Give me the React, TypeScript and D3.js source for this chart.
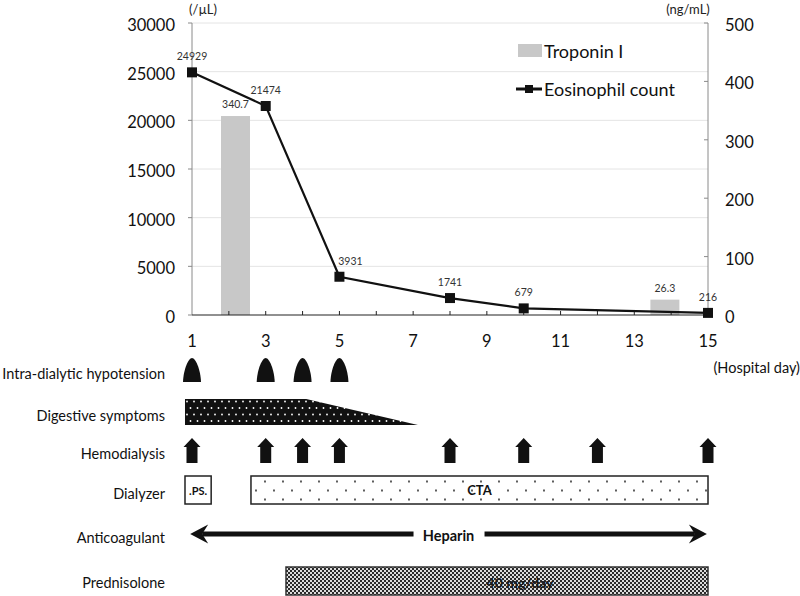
import React from "react";
import * as d3 from "d3";

const eosDays = [1, 3, 5, 8, 10, 15];
const eosValues = [24929, 21474, 3931, 1741, 679, 216];
const eosLabels = ["24929", "21474", "3931", "1741", "679", "216"];
const tropDays = [2.18, 13.83];
const tropValues = [340.7, 26.3];
const tropLabels = ["340.7", "26.3"];
const leftTicks = [0, 5000, 10000, 15000, 20000, 25000, 30000];
const rightTicks = [0, 100, 200, 300, 400, 500];
const dayLabels = [1, 3, 5, 7, 9, 11, 13, 15];
const hypotensionDays = [1, 3, 4, 5];
const hemodialysisDays = [1, 3, 4, 5, 8, 10, 12, 15];
const digestive = { start: 0.81, plateauEnd: 4.1, end: 7.13 };
const psBox = [0.81, 1.52];
const ctaBox = [2.6, 15];
const heparinSpan = [0.95, 14.97];
const prednisoloneSpan = [3.55, 15];
const rowLabels = [
  "Intra-dialytic hypotension",
  "Digestive symptoms",
  "Hemodialysis",
  "Dialyzer",
  "Anticoagulant",
  "Prednisolone",
];

const FONT = "Lato, 'Open Sans', sans-serif";

export default function App() {
  const x = d3.scaleLinear().domain([1, 15]).range([192, 708]);
  const yL = d3.scaleLinear().domain([0, 30000]).range([315, 23]);
  const yR = d3.scaleLinear().domain([0, 500]).range([315, 23]);
  const line = d3
    .line<number>()
    .x((_, i) => x(eosDays[i]))
    .y((v) => yL(v));
  const barW = 29;
  const axisColor = "#8a8a8a";
  const rowY = [373, 415, 453, 493, 537, 582];
  const labelDx = [0, 0, 11, 0, 0, 0];

  const bell = (cx: number) =>
    `M${cx - 9},382 C${cx - 8.5},369 ${cx - 3.5},358 ${cx},358 C${cx + 3.5},358 ${cx + 8.5},369 ${cx + 9},382 Z`;
  const house = (cx: number) =>
    `M${cx},438 L${cx + 8.5},447 L${cx + 5.5},447 L${cx + 5.5},463 L${cx - 5.5},463 L${cx - 5.5},447 L${cx - 8.5},447 Z`;
  const arrowL = (tx: number, y: number) =>
    `M${tx},${y} L${tx + 18},${y - 9.5} L${tx + 12},${y} L${tx + 18},${y + 9.5} Z`;
  const arrowR = (tx: number, y: number) =>
    `M${tx},${y} L${tx - 18},${y - 9.5} L${tx - 12},${y} L${tx - 18},${y + 9.5} Z`;

  const hepY = 534;
  const hepL = x(heparinSpan[0]);
  const hepR = x(heparinSpan[1]);
  const hepMid = (hepL + hepR) / 2;

  return (
    <svg
      width={800}
      height={596}
      style={{ position: "absolute", left: 0, top: 0, background: "#fff" }}
      fontFamily={FONT}
    >
      <defs>
        <pattern id="dotsW" patternUnits="userSpaceOnUse" width={7} height={13} x={185} y={399}>
          <rect width={7} height={13} fill="#111" />
          <circle cx={2} cy={2.5} r={0.9} fill="#fff" />
          <circle cx={5.5} cy={9} r={0.9} fill="#fff" />
        </pattern>
        <pattern id="dotsB" patternUnits="userSpaceOnUse" width={18} height={18} x={0} y={481.5}>
          <rect width={18} height={18} fill="#fff" />
          <circle cx={4} cy={9} r={0.9} fill="#111" />
          <circle cx={13} cy={0} r={0.9} fill="#111" />
          <circle cx={13} cy={18} r={0.9} fill="#111" />
        </pattern>
        <pattern id="checker" patternUnits="userSpaceOnUse" width={4} height={4}>
          <rect width={4} height={4} fill="#dcdcdc" />
          <rect width={2} height={2} fill="#2a2a2a" />
          <rect x={2} y={2} width={2} height={2} fill="#2a2a2a" />
        </pattern>
      </defs>

      {/* gridlines */}
      {leftTicks.slice(1).map((t) => (
        <line key={"g" + t} x1={x(1)} x2={x(15)} y1={yL(t)} y2={yL(t)} stroke="#e4e4e4" strokeWidth={1} />
      ))}

      {/* troponin bars */}
      {tropValues.map((v, i) => (
        <rect
          key={"b" + i}
          x={x(tropDays[i]) - barW / 2}
          y={yR(v)}
          width={barW}
          height={yR(0) - yR(v)}
          fill="#c8c8c8"
        />
      ))}
      {tropValues.map((v, i) => (
        <text
          key={"bl" + i}
          x={x(tropDays[i])}
          y={yR(v) - 12}
          fontSize={10.5}
          textAnchor="middle"
          dominantBaseline="central"
          fill="#333"
        >
          {tropLabels[i]}
        </text>
      ))}

      {/* axes */}
      <line x1={x(1)} x2={x(1)} y1={yL(30000)} y2={yL(0)} stroke={axisColor} strokeWidth={1} />
      <line x1={x(15)} x2={x(15)} y1={yR(500)} y2={yR(0)} stroke={axisColor} strokeWidth={1} />
      {leftTicks.map((t) => (
        <g key={"lt" + t}>
          <line x1={x(1) - 4} x2={x(1)} y1={yL(t)} y2={yL(t)} stroke={axisColor} />
          <text x={175} y={yL(t) + 2} fontSize={16.5} textAnchor="end" dominantBaseline="central" fill="#111">
            {t}
          </text>
        </g>
      ))}
      {rightTicks.map((t) => (
        <g key={"rt" + t}>
          <line x1={x(15) - 4} x2={x(15)} y1={yR(t)} y2={yR(t)} stroke={axisColor} />
          <text x={725} y={yR(t) + 2} fontSize={16.5} textAnchor="start" dominantBaseline="central" fill="#111">
            {t}
          </text>
        </g>
      ))}
      <line x1={x(1)} x2={x(15)} y1={yL(0)} y2={yL(0)} stroke="#222" strokeWidth={1.2} />
      {d3.range(2, 15).map((d) => (
        <line key={"xt" + d} x1={x(d)} x2={x(d)} y1={yL(0) - 4} y2={yL(0)} stroke="#222" />
      ))}
      {dayLabels.map((d) => (
        <text key={"xl" + d} x={x(d)} y={341} fontSize={16.5} textAnchor="middle" dominantBaseline="central" fill="#111">
          {d}
        </text>
      ))}
      <text x={203} y={9} fontSize={13} textAnchor="middle" dominantBaseline="central" fill="#222">
        (/µL)
      </text>
      <text x={688} y={9} fontSize={13} textAnchor="middle" dominantBaseline="central" fill="#222">
        (ng/mL)
      </text>
      <text x={800} y={367} fontSize={14.5} textAnchor="end" dominantBaseline="central" fill="#111">
        (Hospital day)
      </text>

      {/* eosinophil line */}
      <path d={line(eosValues) || ""} fill="none" stroke="#111" strokeWidth={2.2} />
      {eosValues.map((v, i) => (
        <rect key={"m" + i} x={x(eosDays[i]) - 5} y={yL(v) - 5} width={10} height={10} fill="#111" />
      ))}
      {eosValues.map((v, i) => (
        <text
          key={"ml" + i}
          x={x(eosDays[i]) + labelDx[i]}
          y={yL(v) - 16}
          fontSize={10.5}
          textAnchor="middle"
          dominantBaseline="central"
          fill="#333"
        >
          {eosLabels[i]}
        </text>
      ))}

      {/* legend */}
      <rect x={518} y={44} width={24} height={13} fill="#c8c8c8" />
      <text x={544} y={51} fontSize={18} dominantBaseline="central" fill="#111">
        Troponin I
      </text>
      <line x1={516} x2={542} y1={89} y2={89} stroke="#111" strokeWidth={3} />
      <rect x={525} y={85} width={8} height={8} fill="#111" />
      <text x={544} y={89} fontSize={18} dominantBaseline="central" fill="#111">
        Eosinophil count
      </text>

      {/* row labels */}
      {rowLabels.map((r, i) => (
        <text key={r} x={165} y={rowY[i]} fontSize={14.5} textAnchor="end" dominantBaseline="central" fill="#111">
          {r}
        </text>
      ))}

      {/* hypotension */}
      {hypotensionDays.map((d) => (
        <path key={"h" + d} d={bell(x(d))} fill="#111" />
      ))}

      {/* digestive symptoms */}
      <path
        d={`M${x(digestive.start)},399 L${x(digestive.plateauEnd)},399 L${x(digestive.end)},425 L${x(digestive.start)},425 Z`}
        fill="url(#dotsW)"
      />

      {/* hemodialysis */}
      {hemodialysisDays.map((d) => (
        <path key={"hd" + d} d={house(x(d))} fill="#111" />
      ))}

      {/* dialyzer */}
      <rect
        x={x(psBox[0])}
        y={476}
        width={x(psBox[1]) - x(psBox[0])}
        height={28}
        fill="#fff"
        stroke="#222"
        strokeWidth={1.5}
      />
      <text
        x={(x(psBox[0]) + x(psBox[1])) / 2}
        y={490}
        fontSize={11}
        fontWeight="bold"
        textAnchor="middle"
        dominantBaseline="central"
        fill="#111"
      >
        .PS.
      </text>
      <rect
        x={x(ctaBox[0])}
        y={476}
        width={x(ctaBox[1]) - x(ctaBox[0])}
        height={28}
        fill="url(#dotsB)"
        stroke="#222"
        strokeWidth={1.5}
      />
      <text
        x={(x(ctaBox[0]) + x(ctaBox[1])) / 2}
        y={490}
        fontSize={13}
        fontWeight="bold"
        textAnchor="middle"
        dominantBaseline="central"
        fill="#111"
      >
        CTA
      </text>

      {/* anticoagulant */}
      <rect x={hepL + 12} y={hepY - 2.5} width={hepMid - 35 - hepL - 12} height={5} fill="#111" />
      <rect x={hepMid + 36} y={hepY - 2.5} width={hepR - 12 - hepMid - 36} height={5} fill="#111" />
      <path d={arrowL(hepL, hepY)} fill="#111" />
      <path d={arrowR(hepR, hepY)} fill="#111" />
      <text x={hepMid} y={hepY + 1} fontSize={14.5} fontWeight="bold" textAnchor="middle" dominantBaseline="central" fill="#111">
        Heparin
      </text>

      {/* prednisolone */}
      <rect
        x={x(prednisoloneSpan[0])}
        y={567}
        width={x(prednisoloneSpan[1]) - x(prednisoloneSpan[0])}
        height={28}
        fill="url(#checker)"
        stroke="#333"
        strokeWidth={1.5}
      />
      <text x={x(9.9)} y={582} fontSize={14} fontWeight="bold" textAnchor="middle" dominantBaseline="central" fill="#1a1a1a">
        40 mg/day
      </text>
    </svg>
  );
}
